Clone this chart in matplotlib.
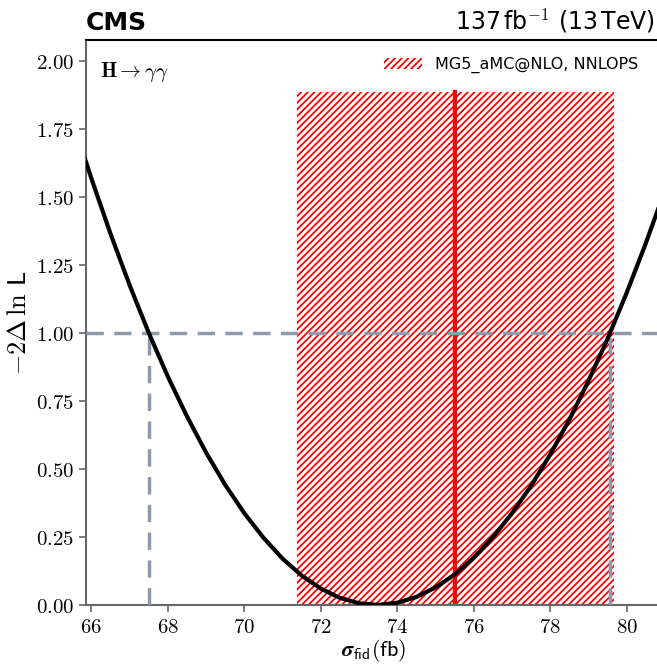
import numpy as np
import matplotlib
matplotlib.use("Agg")
import matplotlib.pyplot as plt
from matplotlib.patches import Patch

# Likelihood scan
sigma_fid = [65.5, 66.0, 66.5, 67.0, 67.5, 68.0, 68.5, 69.0, 69.5, 70.0, 70.5,
             71.0, 71.5, 72.0, 72.5, 73.0, 73.5, 74.0, 74.5, 75.0, 75.5, 76.0,
             76.5, 77.0, 77.5, 78.0, 78.5, 79.0, 79.5, 80.0, 80.5, 81.0]
nll2 = [1.784, 1.567, 1.364, 1.175, 1.000, 0.839, 0.693, 0.560, 0.441, 0.337,
        0.247, 0.170, 0.108, 0.060, 0.026, 0.006, 0.000, 0.008, 0.029, 0.064,
        0.111, 0.173, 0.248, 0.336, 0.437, 0.552, 0.680, 0.822, 0.977, 1.146,
        1.328, 1.523]

# 1 sigma interval and theory prediction
lo_1sig, hi_1sig = 67.51, 79.57
theo_val = 75.5
theo_lo, theo_hi = 71.37, 79.66
theo_top = 1.886

plt.rcParams['mathtext.fontset'] = 'cm'
plt.rcParams['font.family'] = 'DejaVu Sans'
plt.rcParams['hatch.linewidth'] = 1.3

fig = plt.figure(figsize=(6.57, 6.64), dpi=100)
ax = fig.add_axes([0.131, 0.089, 0.875, 0.851])

ax.fill_between([theo_lo, theo_hi], 0, theo_top, facecolor='none',
                edgecolor='red', hatch='/////', linewidth=0)
ax.axvline(theo_val, ymin=0, ymax=theo_top / 2.077, color='red', lw=3)

ax.plot(sigma_fid, nll2, color='black', lw=3, zorder=5)

gray = '#8c9aab'
ax.axhline(1.0, color=gray, lw=2.5, ls=(0, (5, 3)), zorder=4)
ax.plot([lo_1sig, lo_1sig], [0, 1], color=gray, lw=2.5, ls=(0, (5, 3)), zorder=4)
ax.plot([hi_1sig, hi_1sig], [0, 1], color=gray, lw=2.5, ls=(0, (5, 3)), zorder=4)

ax.set_xlim(65.86, 80.9)
ax.set_ylim(0, 2.077)
ax.set_xticks(np.arange(66, 81, 2))
ax.set_xticklabels([f'${v}$' for v in range(66, 81, 2)])
yt = np.arange(0, 2.01, 0.25)
ax.set_yticks(yt)
ax.set_yticklabels([f'${v:.2f}$' for v in yt])
ax.tick_params(labelsize=15, color='#666666', length=5, width=1.2)

for s in ['left', 'bottom']:
    ax.spines[s].set_color('#666666')
    ax.spines[s].set_linewidth(1.5)
ax.spines['top'].set_linewidth(1.5)

ax.set_xlabel(r'$\mathbfit{\sigma}_{\mathsf{fid}}(\mathsf{fb})$', fontsize=16, labelpad=0)
ax.set_ylabel(r'$-2\Delta\,\ln\,\mathsf{L}$', fontsize=19, labelpad=3)

fig.text(0.131, 0.948, 'CMS', fontsize=18, fontweight='bold', ha='left', va='bottom')
fig.text(0.997, 0.948, r'137$\,$fb$^{-1}$ (13$\,$TeV)', fontsize=17,
         ha='right', va='bottom')
ax.text(0.025, 0.965, r'$\mathbf{H}\rightarrow\gamma\gamma$', transform=ax.transAxes,
        fontsize=15, ha='left', va='top')

handle = Patch(facecolor='none', edgecolor='red', hatch='/////', linewidth=0)
ax.legend([handle], ['MG5_aMC@NLO, NNLOPS'], loc='upper right',
          bbox_to_anchor=(0.985, 0.995), frameon=False, fontsize=11.5,
          handlelength=2.4, handleheight=0.7, handletextpad=0.8)

fig.savefig('out.png', dpi=100)
